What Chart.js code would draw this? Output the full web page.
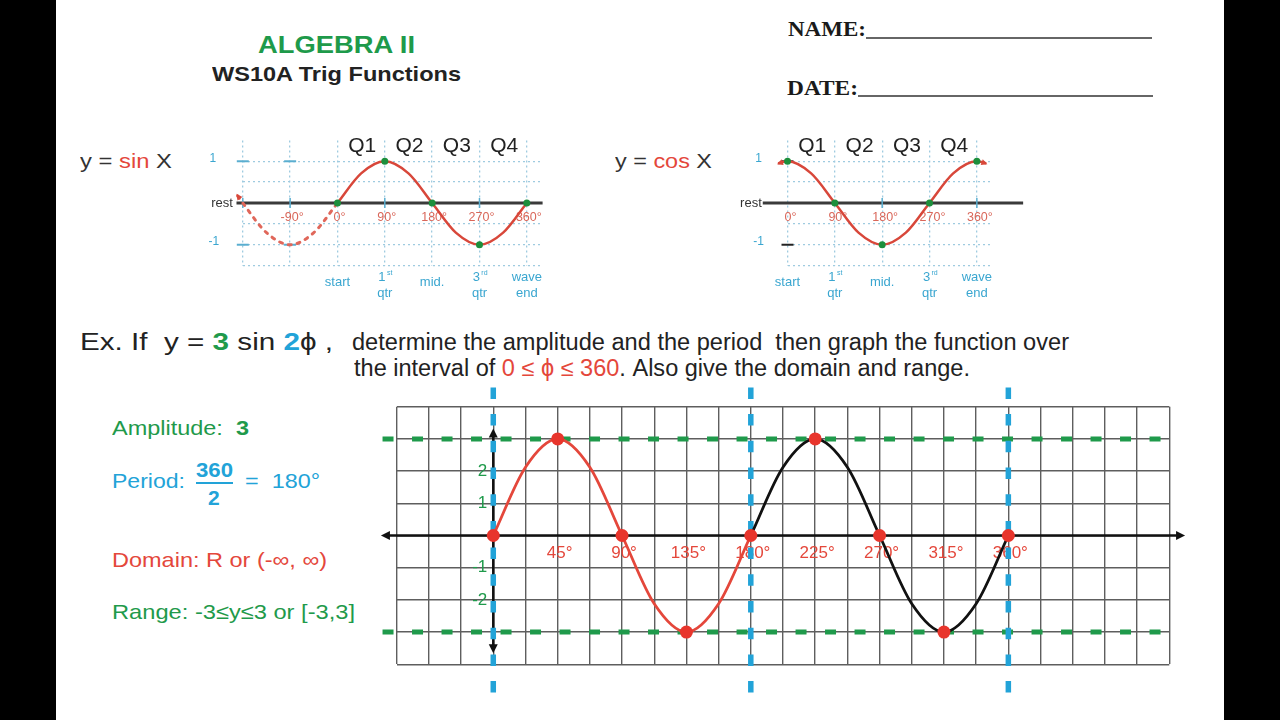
<!DOCTYPE html>
<html>
<head>
<meta charset="utf-8">
<script src="https://cdn.jsdelivr.net/npm/chart.js@4.4.1/dist/chart.umd.min.js"></script>
<style>
  html, body { margin: 0; padding: 0; background: #000; width: 1280px; height: 720px; overflow: hidden; }
  .page { position: absolute; left: 56px; top: 0; width: 1168px; height: 720px; background: #fff; }
  .t { position: absolute; white-space: nowrap; line-height: 1; font-family: "Liberation Sans", Arial, sans-serif; transform-origin: 0 0; color: #222; }
  .narrow { font-family: "Liberation Sans Narrow", "Arial Narrow", "Liberation Sans", sans-serif; }
  .serif { font-family: "Liberation Serif", "DejaVu Serif", serif; font-weight: bold; color: #1a1a1a; }
  .rule { position: absolute; height: 2px; background: #666; }
  canvas { position: absolute; }
  .g { color: #1f9a4b; } .b { color: #22a3d8; } .r { color: #e4473b; }
</style>
</head>
<body>
<div class="page"></div>

<div class="t" style="left:258px;top:33px;font-size:24px;font-weight:bold;color:#1e9a4a" data-w="157">ALGEBRA II</div>
<div class="t" style="left:212px;top:63px;font-size:21px;font-weight:bold" data-w="249">WS10A Trig Functions</div>
<div class="t serif" style="left:788px;top:19px;font-size:21px" data-w="78">NAME:</div>
<div class="rule" style="left:866px;top:37px;width:286px"></div>
<div class="t serif" style="left:787px;top:78px;font-size:21px" data-w="71">DATE:</div>
<div class="rule" style="left:858px;top:95px;width:295px"></div>

<div class="t" style="left:80px;top:150px;font-size:21px;color:#333" data-w="92">y = <span class="r">sin</span> X</div>
<div class="t" style="left:615px;top:150px;font-size:21px;color:#333" data-w="97">y = <span class="r">cos</span> X</div>

<div class="t narrow" style="left:80px;top:331px;font-size:23px" data-w="253">Ex. If&nbsp; y = <b class="g">3</b> sin <b class="b">2</b>ϕ ,</div>
<div class="t narrow" style="left:352px;top:331px;font-size:23px" data-w="717">determine the amplitude and the period&nbsp; then graph the function over</div>
<div class="t narrow" style="left:354px;top:357px;font-size:23px" data-w="616">the interval of <span class="r">0 ≤ ϕ ≤ 360</span>. Also give the domain and range.</div>

<div class="t g" style="left:112px;top:417px;font-size:21px" data-w="137">Amplitude:&nbsp; <b>3</b></div>
<div class="t b" style="left:112px;top:470px;font-size:21px" data-w="73">Period:</div>
<div class="t b" style="left:196px;top:459px;font-size:21px;font-weight:bold" data-w="37">360</div>
<div class="rule" style="left:196px;top:482px;width:37px;background:#22a3d8"></div>
<div class="t b" style="left:208px;top:487px;font-size:21px;font-weight:bold">2</div>
<div class="t b" style="left:245px;top:470px;font-size:21px" data-w="75">=&nbsp; 180°</div>
<div class="t r" style="left:112px;top:549px;font-size:21px" data-w="215">Domain: R or (-∞, ∞)</div>
<div class="t g" style="left:112px;top:601px;font-size:21px" data-w="243">Range: -3≤y≤3 or [-3,3]</div>

<canvas id="sinChart" width="360" height="187" style="left:200px;top:118px"></canvas>
<canvas id="cosChart" width="320" height="187" style="left:720px;top:118px"></canvas>
<canvas id="mainChart" width="830" height="325" style="left:370px;top:380px"></canvas>

<script>
// y = 3 sin 2phi
const phiFirst = [0, 22.5, 45, 67.5, 90, 112.5, 135, 157.5, 180];
const yFirst = [0, 2.12, 3, 2.12, 0, -2.12, -3, -2.12, 0];
const phiSecond = [180, 202.5, 225, 247.5, 270, 292.5, 315, 337.5, 360];
const ySecond = [0, 2.12, 3, 2.12, 0, -2.12, -3, -2.12, 0];
const keyPhi = [0, 45, 90, 135, 180, 225, 270, 315, 360];
const keyY = [0, 3, 0, -3, 0, 3, 0, -3, 0];
const yTickLabels = [2, 1, -1, -2];
const amplitudeLines = [3, -3];
const periodMarks = [0, 180, 360];

// the two reference waves
const sinX = [0, 45, 90, 135, 180, 225, 270, 315, 360];
const sinY = [0, 0.71, 1, 0.71, 0, -0.71, -1, -0.71, 0];
const sinBackX = [-190, -180, -135, -90, -45, 0];
const sinBackY = [0.17, 0, -0.71, -1, -0.71, 0];
const cosX = [-18, 0, 45, 90, 135, 180, 225, 270, 315, 360, 378];
const cosY = [0.95, 1, 0.71, 0, -0.71, -1, -0.71, 0, 0.71, 1, 0.95];
const quarterX = [0, 90, 180, 270, 360];
const sinQuarterY = [0, 1, 0, -1, 0];
const cosQuarterY = [1, 0, -1, 0, 1];
const quarterGrid = [-180, -90, 0, 90, 180, 270, 360];
const sinDegTicks = [-90, 0, 90, 180, 270, 360];
const cosDegTicks = [0, 90, 180, 270, 360];
const quarterNames = ['Q1', 'Q2', 'Q3', 'Q4'];
const quarterMid = [47, 137, 227, 317];
const stageTop = ['start', '1', 'mid.', '3', 'wave'];
const stageSup = ['', 'st', '', 'rd', ''];
const stageBottom = ['', 'qtr', '', 'qtr', 'end'];

const RED = '#e4473b';
const DEG_RED = '#d9675a';
const GREEN = '#1f9a4b';
const BLUE = '#22a3d8';
const DOT_GRID = '#9fcbe0';
const SANS = '"Liberation Sans", Arial, sans-serif';

const pts = (xs, ys) => xs.map((x, i) => ({ x, y: ys[i] }));

document.querySelectorAll('[data-w]').forEach((el) => {
  const w = el.getBoundingClientRect().width;
  el.style.transform = `scaleX(${Number(el.dataset.w) / w})`;
});

const textPlugin = {
  id: 'plotText',
  beforeDatasetsDraw(chart, args, opts) {
    const { ctx, scales: { x, y } } = chart;
    ctx.save();
    ctx.textBaseline = 'middle';
    (opts.items || []).forEach((it) => {
      ctx.font = it.font;
      ctx.fillStyle = it.color;
      ctx.textAlign = it.align || 'center';
      ctx.fillText(it.text, x.getPixelForValue(it.x) + (it.dx || 0), y.getPixelForValue(it.y) + (it.dy || 0));
    });
    ctx.restore();
  },
  afterDatasetsDraw(chart, args, opts) {
    const { ctx, scales: { x, y } } = chart;
    ctx.save();
    (opts.arrows || []).forEach((a) => {
      const px = x.getPixelForValue(a.x);
      const py = y.getPixelForValue(a.y);
      const s = a.size || 9;
      ctx.fillStyle = a.color || '#111';
      ctx.translate(px, py);
      ctx.rotate(a.angle * Math.PI / 180);
      ctx.beginPath();
      ctx.moveTo(0, 0);
      ctx.lineTo(-s, -s / 2);
      ctx.lineTo(-s, s / 2);
      ctx.closePath();
      ctx.fill();
      ctx.setTransform(1, 0, 0, 1, 0, 0);
    });
    ctx.restore();
  },
};

const base = { pointRadius: 0, fill: false, clip: false };

function stageItems() {
  const items = [];
  stageTop.forEach((s, i) => {
    const font = `13px ${SANS}`;
    if (stageBottom[i]) {
      items.push({ x: quarterX[i], y: -1.78, text: s, font, color: '#3aa6d0', dx: stageSup[i] ? -3 : 0 });
      if (stageSup[i]) items.push({ x: quarterX[i], y: -1.78, dx: 5, dy: -4, text: stageSup[i], font: `7px ${SANS}`, color: '#3aa6d0' });
      items.push({ x: quarterX[i], y: -1.78, dy: 16, text: stageBottom[i], font, color: '#3aa6d0' });
    } else {
      items.push({ x: quarterX[i], y: -1.9, text: s, font, color: '#3aa6d0' });
    }
  });
  return items;
}

function smallChart(id, xMin, xMax, pad, datasets, items, arrows) {
  return new Chart(document.getElementById(id), {
    type: 'line',
    data: { datasets },
    options: {
      responsive: false,
      animation: false,
      layout: { padding: pad },
      plugins: { legend: { display: false }, tooltip: { enabled: false }, plotText: { items, arrows } },
      scales: {
        x: {
          type: 'linear', min: xMin, max: xMax,
          afterBuildTicks: (s) => { s.ticks = quarterGrid.filter((v) => v >= xMin).map((v) => ({ value: v })); },
          ticks: { display: false },
          grid: { color: DOT_GRID, lineWidth: 1.3, drawTicks: false },
          border: { display: false, dash: [2, 3] },
        },
        y: {
          type: 'linear', min: -1.5, max: 1.5,
          ticks: { display: false, stepSize: 0.5 },
          grid: {
            color: (c) => (c.tick.value === 0 || c.tick.value === 1.5 ? 'rgba(0,0,0,0)' : DOT_GRID),
            lineWidth: 1.3, drawTicks: false,
          },
          border: { display: false, dash: [2, 3] },
        },
      },
    },
    plugins: [textPlugin],
  });
}

// y = sin X
smallChart('sinChart', -180, 390, { left: 42.8, right: 17.4, top: 22.4, bottom: 39.4 }, [
  { ...base, data: pts(quarterX, sinQuarterY), showLine: false, pointRadius: 3.5, pointBackgroundColor: '#1d8f3c', pointBorderWidth: 0 },
  { ...base, data: pts(sinX, sinY), borderColor: '#d8473a', borderWidth: 2.5, cubicInterpolationMode: 'monotone' },
  { ...base, data: pts(sinBackX, sinBackY), borderColor: '#e0675a', borderWidth: 3, borderDash: [3, 6], borderCapStyle: 'round', cubicInterpolationMode: 'monotone' },
  { ...base, data: [{ x: -180, y: 1 }, { x: -90, y: 1 }, { x: -180, y: -1 }, { x: -90, y: -1 }], showLine: false, pointStyle: 'line', pointRadius: 6, pointBorderWidth: 2, pointBorderColor: '#5aaed0' },
  { ...base, data: [{ x: -180, y: 0 }, { x: -90, y: 0 }, { x: 90, y: 0 }, { x: 270, y: 0 }], showLine: false, pointStyle: 'line', pointRotation: 90, pointRadius: 5, pointBorderWidth: 1.5, pointBorderColor: '#5aaed0' },
  { ...base, data: [{ x: -192, y: 0 }, { x: 390, y: 0 }], borderColor: '#3a3a3a', borderWidth: 2.8 },
], [
  ...quarterNames.map((q, i) => ({ x: quarterMid[i], y: 1.37, text: q, font: `21px ${SANS}`, color: '#222' })),
  ...sinDegTicks.map((d) => ({ x: d, y: 0, dy: 15, dx: 2, text: `${d}°`, font: `12.5px ${SANS}`, color: DEG_RED })),
  ...stageItems(),
  { x: -180, y: 0, dx: -10, text: 'rest', align: 'right', font: `13px ${SANS}`, color: '#333' },
  { x: -180, y: 1, dx: -30, dy: -3, text: '1', font: `12px ${SANS}`, color: '#3aa6d0' },
  { x: -180, y: -1, dx: -29, dy: -3, text: '-1', font: `12px ${SANS}`, color: '#3aa6d0' },
], [
  { x: -192, y: 0.22, angle: -125, size: 6, color: '#d8473a' },
]);

// y = cos X
smallChart('cosChart', 0, 385, { left: 67.5, right: 50, top: 22.4, bottom: 39.4 }, [
  { ...base, data: pts(quarterX, cosQuarterY), showLine: false, pointRadius: 3.5, pointBackgroundColor: '#1d8f3c', pointBorderWidth: 0 },
  { ...base, data: pts(cosX, cosY), borderColor: '#d8473a', borderWidth: 2.5, cubicInterpolationMode: 'monotone' },
  { ...base, data: [{ x: 0, y: 1 }, { x: 0, y: -1 }], showLine: false, pointStyle: 'line', pointRadius: 6, pointBorderWidth: 2, pointBorderColor: '#222' },
  { ...base, data: [{ x: 180, y: 0 }, { x: 360, y: 0 }], showLine: false, pointStyle: 'line', pointRotation: 90, pointRadius: 5, pointBorderWidth: 1.5, pointBorderColor: '#5aaed0' },
  { ...base, data: [{ x: -47, y: 0 }, { x: 448, y: 0 }], borderColor: '#3a3a3a', borderWidth: 2.8 },
], [
  ...quarterNames.map((q, i) => ({ x: quarterMid[i], y: 1.37, text: q, font: `21px ${SANS}`, color: '#222' })),
  ...cosDegTicks.map((d) => ({ x: d, y: 0, dy: 15, dx: 3, text: `${d}°`, font: `12.5px ${SANS}`, color: DEG_RED })),
  ...stageItems(),
  { x: -47, y: 0, dx: -1, text: 'rest', align: 'right', font: `13px ${SANS}`, color: '#333' },
  { x: 0, y: 1, dx: -29, dy: -3, text: '1', font: `12px ${SANS}`, color: '#3aa6d0' },
  { x: 0, y: -1, dx: -29, dy: -3, text: '-1', font: `12px ${SANS}`, color: '#3aa6d0' },
], [
  { x: -20, y: 0.93, angle: 160, size: 6, color: '#d8473a' },
  { x: 380, y: 0.93, angle: 20, size: 6, color: '#d8473a' },
]);

// worked example graph
const mainDatasets = [
  { ...base, data: pts(keyPhi, keyY), showLine: false, pointRadius: 6.5, pointBackgroundColor: '#e8352c', pointBorderWidth: 0, order: 0 },
  { ...base, data: pts(phiFirst, yFirst), borderColor: RED, borderWidth: 2.8, cubicInterpolationMode: 'monotone', order: 1 },
  { ...base, data: pts(phiSecond, ySecond), borderColor: '#111', borderWidth: 2.8, cubicInterpolationMode: 'monotone', order: 1 },
  ...periodMarks.map((p) => ({ ...base, data: [{ x: p, y: 4.6 }, { x: p, y: -4.97 }], borderColor: BLUE, borderWidth: 5.5, borderDash: [11.5, 15.2], order: 2 })),
  ...amplitudeLines.map((a) => ({ ...base, data: [{ x: -77.4, y: a }, { x: 468, y: a }], borderColor: GREEN, borderWidth: 5, borderDash: [11, 18.5], order: 3 })),
  { ...base, data: [{ x: -76, y: 0 }, { x: 481, y: 0 }], borderColor: '#111', borderWidth: 2.5, order: 4 },
  { ...base, data: [{ x: 0, y: 3.2 }, { x: 0, y: -3.55 }], borderColor: '#111', borderWidth: 2.5, order: 4 },
];

new Chart(document.getElementById('mainChart'), {
  type: 'line',
  data: { datasets: mainDatasets },
  options: {
    responsive: false,
    animation: false,
    layout: { padding: { left: 26.7, top: 26.7, right: 30.7, bottom: 40.7 } },
    plugins: {
      legend: { display: false },
      tooltip: { enabled: false },
      plotText: {
        items: [
          ...keyPhi.slice(1).map((p) => ({ x: p, y: 0, dy: 18, dx: 2, text: `${p}°`, font: `17px ${SANS}`, color: RED })),
          ...yTickLabels.map((v) => ({ x: 0, y: v, dx: -6, text: `${v}`, align: 'right', font: `17px ${SANS}`, color: GREEN })),
        ],
        arrows: [
          { x: -78.5, y: 0, angle: 180 },
          { x: 483.5, y: 0, angle: 0 },
          { x: 0, y: 3.32, angle: -90 },
          { x: 0, y: -3.66, angle: 90 },
        ],
      },
    },
    scales: {
      x: {
        type: 'linear', min: -67.5, max: 472.5,
        ticks: { display: false, stepSize: 22.5, maxTicksLimit: 100 },
        grid: { color: '#5e5e5e', lineWidth: 1.4, drawTicks: false },
        border: { display: false },
      },
      y: {
        type: 'linear', min: -4, max: 4,
        ticks: { display: false, stepSize: 1 },
        grid: { color: '#5e5e5e', lineWidth: 1.4, drawTicks: false },
        border: { display: false },
      },
    },
  },
  plugins: [textPlugin],
});
</script>
</body>
</html>
